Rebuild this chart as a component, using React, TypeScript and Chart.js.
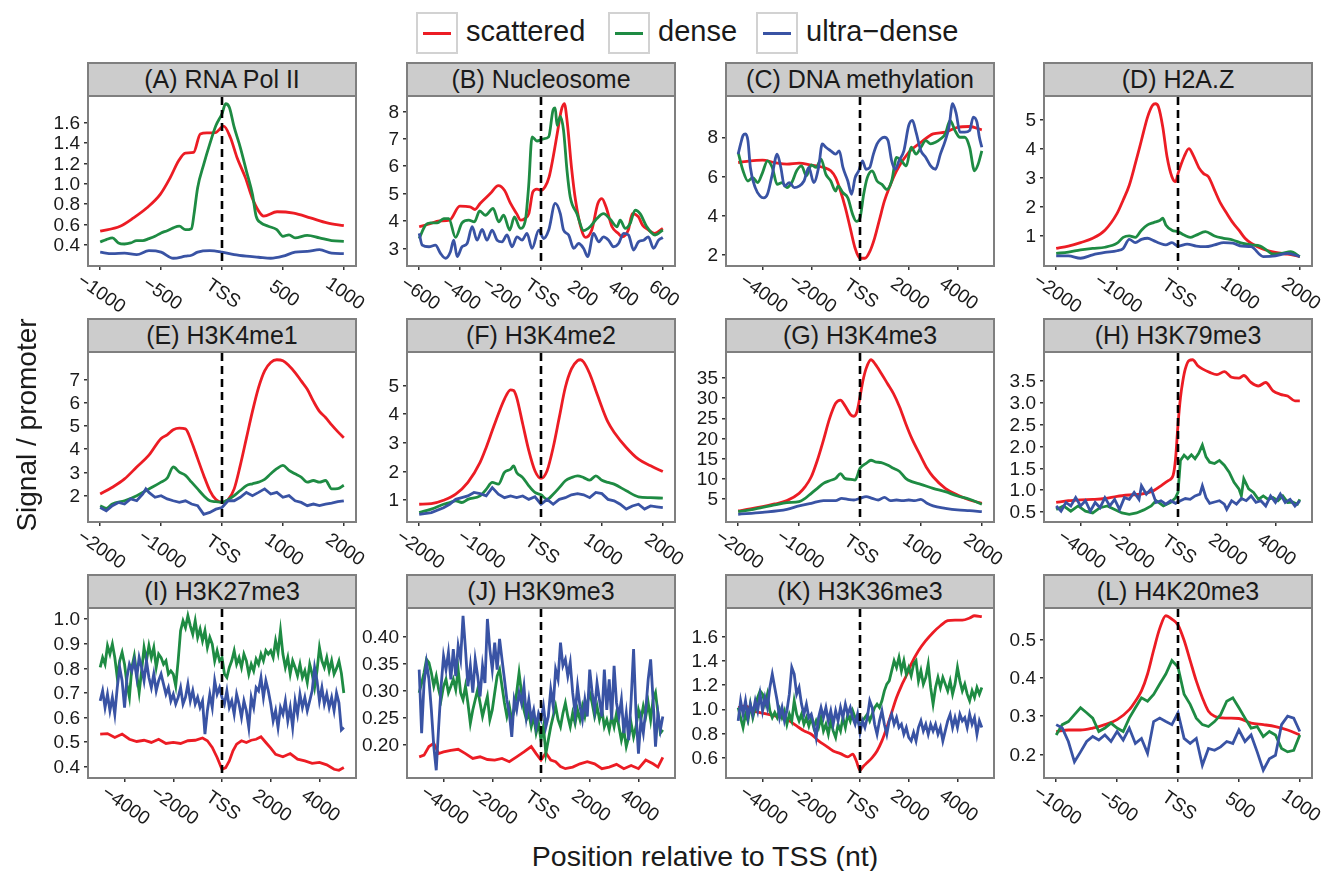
import React, { useEffect, useRef } from "react";
import { Chart, registerables } from "chart.js";
Chart.register(...registerables);

const SERIES = ["scattered", "dense", "ultra\u2212dense"];
const COLORS = ["#ec1c24", "#1e8b43", "#3953a4"];
const FONT = '"Liberation Sans", Arial, Helvetica, sans-serif';

// ---------- shared x grids ----------
const X_GRID_100 = [-5000,-4900,-4800,-4700,-4600,-4500,-4400,-4300,-4200,-4100,-4000,-3900,-3800,-3700,-3600,-3500,-3400,-3300,-3200,-3100,-3000,-2900,-2800,-2700,-2600,-2500,-2400,-2300,-2200,-2100,-2000,-1900,-1800,-1700,-1600,-1500,-1400,-1300,-1200,-1100,-1000,-900,-800,-700,-600,-500,-400,-300,-200,-100,0,100,200,300,400,500,600,700,800,900,1000,1100,1200,1300,1400,1500,1600,1700,1800,1900,2000,2100,2200,2300,2400,2500,2600,2700,2800,2900,3000,3100,3200,3300,3400,3500,3600,3700,3800,3900,4000,4100,4200,4300,4400,4500,4600,4700,4800,4900,5000];
const X_GRID_50 = [-1000,-950,-900,-850,-800,-750,-700,-650,-600,-550,-500,-450,-400,-350,-300,-250,-200,-150,-100,-50,0,50,100,150,200,250,300,350,400,450,500,550,600,650,700,750,800,850,900,950,1000];

// ---------- tick definitions ----------
const XT_1000 = [-1000, -500, 0, 500, 1000];
const XL_1000 = ["\u22121000", "\u2212500", "TSS", "500", "1000"];
const XT_600 = [-600, -400, -200, 0, 200, 400, 600];
const XL_600 = ["\u2212600", "\u2212400", "\u2212200", "TSS", "200", "400", "600"];
const XT_2000 = [-2000, -1000, 0, 1000, 2000];
const XL_2000 = ["\u22122000", "\u22121000", "TSS", "1000", "2000"];
const XT_5000 = [-4000, -2000, 0, 2000, 4000];
const XL_5000 = ["\u22124000", "\u22122000", "TSS", "2000", "4000"];

// ---------- (A) RNA Pol II ----------
const A_RED_X = [-1000,-836,-726,-616,-507,-425,-356,-301,-233,-178,-123,-55,14,68,123,192,247,301,342,452,589,726,863,1000];
const A_RED = [0.535,0.584,0.666,0.765,0.896,1.06,1.225,1.30,1.307,1.488,1.498,1.50,1.564,1.455,1.258,1.06,0.864,0.732,0.683,0.726,0.712,0.666,0.617,0.59];
const A_GREEN_X = [-1000,-950,-900,-850,-800,-750,-700,-650,-600,-550,-500,-450,-400,-350,-300,-250,-230,-200,-150,-100,-50,0,30,60,100,150,200,250,280,320,380,450,500,550,600,700,800,900,1000];
const A_GREEN = [0.43,0.453,0.47,0.42,0.41,0.42,0.443,0.443,0.462,0.485,0.518,0.54,0.568,0.584,0.55,0.56,0.70,0.962,1.19,1.39,1.57,1.686,1.784,1.75,1.554,1.357,1.127,0.896,0.683,0.617,0.584,0.55,0.485,0.50,0.47,0.495,0.47,0.443,0.436];
const A_BLUE_X = [-1000,-900,-800,-700,-600,-500,-400,-300,-250,-200,-100,0,100,200,300,400,500,600,700,800,900,1000];
const A_BLUE = [0.33,0.315,0.32,0.305,0.344,0.33,0.27,0.29,0.30,0.33,0.344,0.33,0.305,0.29,0.28,0.27,0.29,0.33,0.337,0.354,0.32,0.315];
const A_YT = [0.4, 0.6, 0.8, 1.0, 1.2, 1.4, 1.6];
const A_YL = ["0.4", "0.6", "0.8", "1.0", "1.2", "1.4", "1.6"];

// ---------- (B) Nucleosome ----------
const B_RED_X = [-600,-550,-500,-450,-400,-350,-325,-300,-250,-210,-180,-150,-120,-100,-80,-60,-40,-20,0,20,40,60,80,100,115,130,150,170,200,220,250,280,300,320,350,380,400,430,450,480,500,530,560,600];
const B_RED = [3.79,3.89,4.0,4.03,4.54,4.52,4.42,4.64,5.0,5.29,5.12,4.64,4.27,4.03,4.09,4.27,5.06,5.16,5.12,5.25,5.61,6.34,7.19,8.04,8.28,7.55,5.97,4.76,3.67,3.4,3.67,4.64,4.82,4.52,3.79,3.55,3.42,3.67,4.27,4.15,3.85,3.67,3.55,3.73];
const B_GREEN_X = [-600,-569,-544,-511,-479,-454,-421,-389,-356,-328,-302,-274,-236,-208,-184,-154,-131,-102,-77,-61,-44,-20,13,38,59,70,79,95,111,128,144,177,210,243,275,308,341,374,390,415,439,464,488,521,562,600];
const B_GREEN = [3.36,3.85,3.93,3.93,4.09,4.09,3.40,3.93,4.03,3.97,4.37,4.21,4.46,3.97,4.21,3.67,4.15,3.73,4.03,5.25,7.07,6.92,7.0,7.07,8.04,8.13,7.49,7.82,7.31,5.85,4.88,4.27,3.65,3.8,4.09,4.27,4.06,3.79,4.03,3.73,3.91,4.40,4.27,3.79,3.49,3.67];
const B_BLUE_X = [-600,-585,-552,-520,-495,-470,-446,-430,-413,-389,-364,-339,-315,-290,-266,-241,-216,-192,-167,-143,-118,-93,-69,-44,-11,13,38,70,95,111,136,161,185,210,230,259,284,308,333,357,382,407,431,456,480,505,529,554,579,600];
const B_BLUE = [3.55,3.12,3.06,3.12,2.82,2.64,2.88,3.30,2.70,3.06,3.18,3.79,3.30,3.69,3.30,3.67,3.30,3.24,3.49,3.06,3.42,3.30,3.55,3.0,3.67,3.36,3.67,4.64,4.27,3.67,3.49,3.0,3.18,3.0,2.70,3.55,3.24,3.42,3.30,3.06,3.18,3.55,3.49,2.94,3.24,3.30,3.42,3.0,3.30,3.40];
const B_YT = [3, 4, 5, 6, 7, 8];
const B_YL = ["3", "4", "5", "6", "7", "8"];

// ---------- (C) DNA methylation ----------
const C_RED_X = [-5000,-4500,-4000,-3500,-3000,-2500,-2000,-1500,-1200,-1000,-800,-600,-400,-200,0,200,400,600,800,1000,1200,1500,2000,2500,3000,3500,4000,4500,5000];
const C_RED = [6.71,6.8,6.83,6.71,6.63,6.68,6.58,6.46,6.29,5.94,5.26,4.40,3.37,2.34,1.83,1.83,2.17,2.86,3.80,4.74,5.43,6.29,7.23,7.74,8.17,8.26,8.51,8.55,8.38];
const C_GREEN_X = [-5000,-4800,-4600,-4400,-4200,-4000,-3800,-3600,-3400,-3200,-3000,-2800,-2600,-2400,-2200,-2000,-1800,-1600,-1400,-1200,-1000,-900,-700,-500,-300,-150,0,150,300,500,700,900,1100,1300,1500,1700,1900,2100,2300,2500,2700,2900,3100,3300,3500,3700,3900,4100,4300,4500,4700,4850,5000];
const C_GREEN = [7.23,6.29,5.77,5.94,5.69,6.20,6.8,6.46,5.6,5.69,5.43,5.69,6.29,6.54,6.03,6.59,6.46,6.89,6.11,5.77,5.26,5.51,5.17,4.91,4.06,3.71,3.89,5.09,5.94,6.29,5.77,5.6,5.34,5.77,6.97,6.8,6.54,7.49,7.14,7.49,7.83,7.66,7.74,7.91,8.17,8.86,8.34,8.0,8.0,7.49,6.29,6.63,7.31];
const C_BLUE_X = [-5000,-4900,-4800,-4700,-4600,-4500,-4300,-4100,-3950,-3800,-3600,-3400,-3250,-3100,-2900,-2700,-2500,-2300,-2100,-1900,-1700,-1550,-1400,-1200,-1000,-850,-700,-500,-350,-200,-50,100,250,400,550,700,850,1000,1150,1300,1450,1600,1800,2000,2150,2300,2500,2700,2900,3100,3300,3500,3650,3800,3950,4100,4300,4500,4650,4800,4900,5000];
const C_BLUE = [7.14,7.66,8.09,8.17,7.83,6.46,5.43,5.0,4.91,5.09,6.11,7.14,6.46,5.51,5.69,5.43,5.51,5.77,6.46,5.69,6.46,7.66,7.49,7.31,7.14,7.31,6.46,5.77,5.09,5.94,6.29,6.80,6.37,6.46,7.14,7.66,7.91,8.0,7.83,6.8,6.37,6.8,7.31,8.6,8.86,8.26,7.31,6.97,6.54,6.37,7.14,7.83,8.51,9.71,9.2,8.26,8.26,8.34,9.03,8.77,8.0,7.49];
const C_YT = [2, 4, 6, 8];
const C_YL = ["2", "4", "6", "8"];

// ---------- (D) H2A.Z ----------
const D_RED_X = [-2000,-1800,-1600,-1400,-1200,-1000,-900,-800,-700,-600,-500,-420,-370,-320,-250,-180,-100,-40,0,100,180,250,350,420,500,600,700,800,900,1000,1100,1200,1400,1600,1800,2000];
const D_RED = [0.56,0.64,0.76,0.91,1.19,1.77,2.23,2.74,3.49,4.29,5.09,5.49,5.55,5.44,4.75,3.72,3.03,2.86,3.14,3.72,4.0,3.77,3.32,3.14,3.03,2.57,2.11,1.77,1.45,1.19,0.91,0.74,0.53,0.42,0.36,0.28];
const D_GREEN_X = [-2000,-1800,-1600,-1400,-1200,-1000,-900,-800,-700,-600,-500,-400,-300,-250,-200,-100,0,100,200,300,450,600,750,900,1050,1200,1350,1450,1550,1700,1850,2000];
const D_GREEN = [0.39,0.43,0.51,0.56,0.60,0.74,0.94,0.99,0.94,1.19,1.37,1.45,1.52,1.60,1.37,1.19,1.14,1.02,0.94,1.02,1.14,0.99,0.91,0.85,0.74,0.68,0.64,0.51,0.37,0.39,0.45,0.28];
const D_BLUE_X = [-2000,-1800,-1600,-1400,-1200,-1000,-900,-800,-700,-600,-500,-400,-300,-200,-100,0,150,300,450,600,750,900,1050,1200,1400,1600,1800,2000];
const D_BLUE = [0.30,0.30,0.22,0.34,0.42,0.48,0.56,0.87,0.76,0.87,0.91,0.83,0.74,0.68,0.76,0.64,0.71,0.64,0.62,0.68,0.76,0.74,0.64,0.62,0.28,0.30,0.39,0.28];
const D_YT = [1, 2, 3, 4, 5];
const D_YL = ["1", "2", "3", "4", "5"];

// ---------- (E) H3K4me1 ----------
const E_RED_X = [-2000,-1800,-1600,-1400,-1200,-1000,-900,-800,-700,-600,-500,-400,-300,-200,-100,0,100,200,300,400,500,600,700,800,900,1000,1100,1200,1300,1400,1500,1600,1700,1800,1900,2000];
const E_RED = [2.07,2.36,2.72,3.23,3.74,4.46,4.61,4.83,4.90,4.87,4.32,3.59,2.87,2.22,1.83,1.71,1.83,2.29,3.30,4.46,5.62,6.64,7.36,7.72,7.84,7.80,7.58,7.29,6.93,6.57,6.06,5.62,5.36,5.04,4.75,4.49];
const E_GREEN_X = [-2000,-1900,-1800,-1600,-1400,-1200,-1000,-900,-800,-700,-600,-500,-400,-300,-200,-100,0,100,200,300,400,500,600,700,800,900,1000,1100,1200,1300,1400,1500,1600,1700,1800,1900,2000];
const E_GREEN = [1.57,1.45,1.64,1.78,2.0,2.29,2.58,2.75,3.23,3.01,2.87,2.58,2.29,2.0,1.78,1.74,1.71,1.83,2.0,2.22,2.43,2.51,2.58,2.70,2.94,3.16,3.30,3.09,2.94,2.80,2.58,2.65,2.58,2.65,2.29,2.30,2.45];
const E_BLUE_X = [-2000,-1900,-1800,-1700,-1600,-1500,-1400,-1300,-1250,-1200,-1100,-1000,-900,-800,-700,-600,-500,-400,-300,-200,-100,0,100,200,300,400,500,600,700,800,900,1000,1100,1200,1300,1400,1500,1600,1700,1800,1900,2000];
const E_BLUE = [1.49,1.35,1.57,1.71,1.64,1.86,1.78,2.07,2.29,2.14,1.93,2.0,1.86,1.78,1.71,1.78,1.64,1.57,1.20,1.28,1.42,1.49,1.78,1.78,1.93,2.14,2.0,2.14,2.29,2.07,2.14,1.93,2.0,1.78,1.71,1.57,1.64,1.57,1.64,1.68,1.74,1.78];
const E_YT = [2, 3, 4, 5, 6, 7];
const E_YL = ["2", "3", "4", "5", "6", "7"];

// ---------- (F) H3K4me2 ----------
const F_RED_X = [-2000,-1800,-1600,-1400,-1200,-1000,-900,-800,-700,-600,-500,-450,-400,-300,-200,-100,0,100,200,300,400,500,600,650,700,800,900,1000,1100,1200,1400,1600,1800,2000];
const F_RED = [0.86,0.88,1.0,1.21,1.62,2.32,2.84,3.43,4.01,4.53,4.85,4.83,4.59,3.66,2.73,2.03,1.76,2.03,2.84,3.89,4.94,5.58,5.87,5.90,5.82,5.41,4.83,4.24,3.72,3.37,2.84,2.43,2.20,2.0];
const F_GREEN_X = [-2000,-1800,-1600,-1500,-1400,-1300,-1200,-1000,-900,-800,-700,-600,-500,-450,-400,-300,-200,-100,0,100,200,300,400,500,600,700,800,900,1000,1100,1200,1400,1600,1800,2000];
const F_GREEN = [0.57,0.69,0.86,0.92,0.98,0.92,1.03,1.15,1.38,1.62,1.56,1.97,2.08,2.20,1.97,1.79,1.50,1.27,1.19,1.03,1.21,1.44,1.68,1.79,1.85,1.79,1.70,1.85,1.70,1.62,1.56,1.33,1.12,1.09,1.07];
const F_BLUE_X = [-2000,-1800,-1600,-1500,-1400,-1300,-1200,-1100,-1000,-900,-800,-700,-600,-500,-400,-300,-200,-100,0,100,200,300,400,500,600,700,800,900,1000,1100,1200,1300,1400,1500,1600,1700,1800,1900,2000];
const F_BLUE = [0.51,0.57,0.74,0.86,1.03,1.09,1.15,1.27,1.23,1.15,1.44,1.21,1.09,1.15,1.09,1.15,1.03,1.12,0.86,1.03,0.86,1.03,1.09,1.19,1.23,1.19,1.09,1.27,1.23,1.03,0.98,0.86,0.69,0.80,0.86,0.69,0.80,0.77,0.74];
const F_YT = [1, 2, 3, 4, 5];
const F_YL = ["1", "2", "3", "4", "5"];

// ---------- (G) H3K4me3 ----------
const G_RED_X = [-2000,-1800,-1600,-1400,-1200,-1000,-900,-800,-700,-600,-500,-400,-320,-250,-150,-100,-50,0,50,100,180,250,350,450,550,650,750,850,1000,1100,1200,1400,1600,1800,2000];
const G_RED = [2.03,2.53,3.10,3.76,4.59,6.40,8.05,10.5,14.6,19.6,24.9,28.7,29.5,28.2,25.8,25.5,26.6,30.3,34.4,37.3,39.5,38.4,36.1,33.6,31.1,27.8,23.7,20.0,15.5,12.6,10.5,7.64,5.99,4.75,3.93];
const G_GREEN_X = [-2000,-1800,-1600,-1400,-1200,-1000,-900,-800,-700,-600,-500,-400,-320,-250,-150,-80,0,100,180,250,350,450,550,650,750,850,1000,1200,1400,1600,1800,2000];
const G_GREEN = [1.87,2.28,2.94,3.52,4.09,4.34,5.16,6.40,7.64,8.87,9.53,10.1,11.3,10.1,9.86,9.70,12.6,13.8,14.6,14.2,14.0,13.4,12.6,11.8,10.1,9.29,8.63,7.64,6.81,5.74,4.92,3.68];
const G_BLUE_X = [-2000,-1600,-1200,-1000,-800,-600,-400,-300,-200,-100,0,100,200,300,400,500,600,700,800,900,1000,1100,1200,1400,1600,1800,2000];
const G_BLUE = [1.21,1.70,2.44,3.27,3.93,4.59,4.59,5.16,4.92,4.75,5.16,5.58,5.16,4.75,5.41,4.59,4.75,4.59,4.75,4.59,4.92,3.93,3.27,2.69,2.28,2.11,1.87];
const G_YT = [5, 10, 15, 20, 25, 30, 35];
const G_YL = ["5", "10", "15", "20", "25", "30", "35"];

// ---------- (H) H3K79me3 ----------
const H_RED_X = [-5000,-4500,-4000,-3500,-3000,-2500,-2000,-1500,-1000,-700,-400,-200,-100,0,100,200,300,450,600,800,1000,1300,1600,1900,2200,2500,2700,3000,3300,3600,3900,4200,4500,4800,5000];
const H_RED = [0.72,0.76,0.78,0.79,0.81,0.86,0.89,0.91,0.99,1.10,1.22,1.34,1.72,2.50,3.11,3.5,3.77,3.96,3.98,3.85,3.77,3.69,3.64,3.71,3.58,3.56,3.62,3.46,3.38,3.46,3.27,3.19,3.15,3.04,3.04];
const H_GREEN_X = [-5000,-4700,-4400,-4100,-3800,-3500,-3200,-2900,-2600,-2300,-2000,-1700,-1400,-1100,-900,-600,-300,-100,0,100,250,400,550,700,850,1000,1150,1300,1500,1700,1900,2100,2300,2500,2600,2700,2900,3100,3300,3500,3700,3900,4100,4300,4500,4700,4900,5000];
const H_GREEN = [0.56,0.64,0.52,0.64,0.52,0.48,0.60,0.64,0.56,0.48,0.45,0.48,0.55,0.64,0.76,0.64,0.72,0.83,0.95,1.68,1.80,1.72,1.81,1.72,1.84,2.03,1.76,1.64,1.61,1.68,1.57,1.41,1.18,1.03,0.87,1.26,1.03,0.95,0.79,0.87,0.79,0.83,0.76,0.87,0.72,0.73,0.68,0.79];
const H_BLUE_X = [-5000,-4800,-4600,-4400,-4200,-4000,-3800,-3600,-3400,-3200,-3000,-2800,-2600,-2400,-2200,-2000,-1800,-1600,-1500,-1300,-1100,-900,-700,-500,-300,-100,100,300,500,700,900,1000,1150,1300,1500,1700,1900,2000,2200,2400,2600,2800,3000,3200,3400,3600,3800,4000,4200,4400,4600,4800,5000];
const H_BLUE = [0.64,0.52,0.72,0.64,0.83,0.64,0.76,0.52,0.72,0.60,0.83,0.64,0.79,0.56,0.83,0.79,0.95,0.79,1.10,0.91,1.03,0.72,0.76,0.68,0.76,0.70,0.76,0.81,0.79,0.87,0.91,1.10,0.83,0.70,0.73,0.76,0.68,0.56,0.76,0.68,0.81,0.76,0.87,0.72,0.76,0.64,0.87,0.72,0.91,0.72,0.79,0.64,0.76];
const H_YT = [0.5, 1.0, 1.5, 2.0, 2.5, 3.0, 3.5];
const H_YL = ["0.5", "1.0", "1.5", "2.0", "2.5", "3.0", "3.5"];

// ---------- (I) H3K27me3 ----------
const I_RED_X = [-5000,-4700,-4400,-4100,-3800,-3500,-3200,-2900,-2600,-2300,-2000,-1700,-1400,-1100,-800,-600,-400,-200,0,150,300,450,600,800,1000,1200,1400,1600,1800,2000,2200,2500,2800,3100,3400,3700,4000,4300,4600,4800,5000];
const I_RED = [0.533,0.535,0.519,0.533,0.512,0.503,0.508,0.499,0.512,0.495,0.499,0.495,0.506,0.508,0.517,0.506,0.479,0.438,0.39,0.397,0.424,0.465,0.492,0.506,0.499,0.508,0.512,0.522,0.499,0.476,0.451,0.441,0.454,0.431,0.424,0.414,0.418,0.408,0.39,0.386,0.397];
const I_GREEN = [0.804,0.844,0.817,0.892,0.858,0.899,0.844,0.763,0.831,0.865,0.817,0.736,0.682,0.804,0.851,0.777,0.702,0.790,0.885,0.831,0.892,0.844,0.885,0.804,0.858,0.844,0.817,0.831,0.777,0.790,0.777,0.729,0.831,0.953,0.993,0.966,1.014,0.973,0.939,0.993,0.926,0.960,0.912,0.953,0.885,0.926,0.899,0.831,0.872,0.831,0.844,0.777,0.763,0.804,0.831,0.872,0.817,0.844,0.804,0.858,0.831,0.777,0.817,0.790,0.838,0.817,0.858,0.831,0.872,0.858,0.872,0.844,0.912,0.865,0.953,0.858,0.804,0.844,0.777,0.831,0.804,0.770,0.817,0.763,0.790,0.743,0.817,0.777,0.722,0.790,0.885,0.831,0.804,0.844,0.790,0.831,0.777,0.80,0.83,0.78,0.70];
const I_BLUE = [0.668,0.709,0.641,0.695,0.628,0.682,0.614,0.722,0.804,0.750,0.641,0.763,0.817,0.790,0.831,0.763,0.844,0.804,0.750,0.831,0.763,0.722,0.777,0.709,0.750,0.777,0.736,0.695,0.722,0.668,0.695,0.655,0.682,0.722,0.655,0.682,0.736,0.668,0.709,0.655,0.682,0.641,0.668,0.533,0.628,0.695,0.641,0.750,0.695,0.722,0.682,0.655,0.709,0.641,0.668,0.614,0.695,0.655,0.601,0.668,0.628,0.560,0.682,0.641,0.722,0.709,0.763,0.682,0.750,0.709,0.655,0.587,0.628,0.560,0.641,0.614,0.668,0.587,0.641,0.560,0.668,0.614,0.695,0.641,0.682,0.628,0.668,0.709,0.804,0.750,0.668,0.722,0.655,0.695,0.641,0.682,0.628,0.70,0.66,0.55,0.56];
const I_YT = [0.4, 0.5, 0.6, 0.7, 0.8, 0.9, 1.0];
const I_YL = ["0.4", "0.5", "0.6", "0.7", "0.8", "0.9", "1.0"];

// ---------- (J) H3K9me3 ----------
const J_RED_X = [-5000,-4800,-4600,-4400,-4200,-4000,-3700,-3400,-3100,-2800,-2500,-2200,-1900,-1600,-1300,-1000,-700,-400,-200,0,200,400,600,800,1000,1300,1600,1900,2200,2500,2800,3100,3400,3700,4000,4300,4600,4800,5000];
const J_RED = [0.177,0.180,0.196,0.202,0.183,0.186,0.189,0.191,0.183,0.174,0.177,0.172,0.171,0.174,0.168,0.177,0.186,0.196,0.183,0.171,0.184,0.171,0.168,0.159,0.155,0.158,0.164,0.168,0.164,0.155,0.158,0.163,0.155,0.161,0.155,0.171,0.164,0.158,0.176];
const J_GREEN = [0.296,0.314,0.333,0.358,0.352,0.333,0.308,0.327,0.302,0.283,0.308,0.321,0.296,0.308,0.321,0.302,0.339,0.296,0.283,0.308,0.277,0.239,0.264,0.283,0.302,0.277,0.252,0.271,0.289,0.246,0.264,0.296,0.327,0.339,0.308,0.277,0.252,0.271,0.246,0.264,0.296,0.333,0.296,0.264,0.246,0.258,0.233,0.252,0.221,0.239,0.208,0.233,0.183,0.208,0.233,0.252,0.271,0.246,0.233,0.258,0.277,0.252,0.233,0.258,0.239,0.264,0.246,0.271,0.252,0.277,0.296,0.277,0.252,0.271,0.246,0.264,0.233,0.246,0.227,0.252,0.233,0.258,0.233,0.208,0.227,0.196,0.214,0.239,0.214,0.233,0.264,0.246,0.271,0.252,0.277,0.246,0.283,0.296,0.258,0.221,0.227];
const J_BLUE = [0.339,0.221,0.314,0.352,0.321,0.264,0.196,0.152,0.233,0.308,0.364,0.339,0.371,0.321,0.377,0.327,0.383,0.358,0.439,0.377,0.308,0.346,0.296,0.358,0.327,0.289,0.346,0.314,0.433,0.377,0.339,0.389,0.339,0.396,0.358,0.321,0.283,0.258,0.214,0.283,0.264,0.296,0.277,0.308,0.252,0.283,0.246,0.264,0.233,0.258,0.246,0.271,0.233,0.252,0.302,0.271,0.339,0.321,0.389,0.346,0.358,0.327,0.352,0.296,0.258,0.308,0.271,0.246,0.283,0.252,0.339,0.296,0.264,0.314,0.283,0.252,0.339,0.264,0.321,0.246,0.346,0.277,0.252,0.283,0.221,0.258,0.208,0.283,0.377,0.258,0.183,0.246,0.221,0.264,0.321,0.358,0.283,0.196,0.258,0.227,0.252];
const J_YT = [0.2, 0.25, 0.3, 0.35, 0.4];
const J_YL = ["0.20", "0.25", "0.30", "0.35", "0.40"];

// ---------- (K) H3K36me3 ----------
const K_RED_X = [-5000,-4700,-4400,-4100,-3800,-3500,-3200,-2900,-2600,-2300,-2000,-1700,-1400,-1100,-800,-500,-300,-150,0,150,300,500,700,900,1100,1300,1500,1700,1900,2100,2400,2700,3000,3300,3600,3900,4200,4500,4700,5000];
const K_RED = [1.014,1.028,0.987,0.973,0.959,0.945,0.931,0.904,0.862,0.821,0.793,0.738,0.697,0.655,0.633,0.606,0.628,0.572,0.495,0.531,0.559,0.60,0.655,0.738,0.849,0.973,1.097,1.194,1.277,1.373,1.484,1.567,1.636,1.691,1.733,1.738,1.738,1.755,1.774,1.766];
const K_GREEN = [1.014,0.931,0.849,0.959,0.904,1.042,0.931,1.014,1.097,1.152,1.125,1.042,1.125,0.987,0.931,0.973,0.931,1.0,0.931,0.987,0.876,0.959,0.904,1.070,0.959,0.904,0.959,0.876,0.931,0.862,0.931,0.849,0.904,0.849,0.931,0.821,0.876,0.793,0.904,0.821,0.766,0.876,0.821,0.931,0.849,0.959,0.904,0.987,0.931,0.904,0.862,0.904,0.931,0.959,0.904,0.959,1.014,1.042,1.014,1.070,1.152,1.208,1.235,1.318,1.401,1.346,1.429,1.318,1.401,1.291,1.346,1.277,1.373,1.401,1.235,1.318,1.208,1.263,1.373,1.180,1.042,1.180,1.263,1.180,1.263,1.208,1.152,1.235,1.125,1.208,1.346,1.235,1.152,1.208,1.125,1.070,1.152,1.097,1.180,1.125,1.180];
const K_BLUE = [0.904,1.070,0.959,1.070,0.931,1.042,0.959,1.070,0.987,1.125,0.987,1.097,1.014,1.180,1.291,1.180,1.070,0.931,1.014,0.904,0.987,1.125,1.346,1.291,1.125,1.180,1.042,0.959,1.042,0.931,0.959,0.876,0.766,0.931,1.014,0.931,1.014,0.904,0.987,0.876,0.987,0.904,1.014,0.931,1.042,0.959,1.014,0.931,0.876,0.959,0.807,0.904,0.849,0.931,1.070,1.014,0.876,0.793,0.904,0.987,0.876,0.793,0.904,0.959,0.876,0.931,0.849,0.876,0.793,0.849,0.766,0.738,0.807,0.738,0.849,0.904,0.821,0.876,0.793,0.876,0.821,0.876,0.793,0.849,0.738,0.821,0.904,0.959,0.849,0.931,0.849,0.959,0.904,0.931,0.849,0.959,0.876,0.931,0.793,0.904,0.849];
const K_YT = [0.6, 0.8, 1.0, 1.2, 1.4, 1.6];
const K_YL = ["0.6", "0.8", "1.0", "1.2", "1.4", "1.6"];

// ---------- (L) H4K20me3 ----------
const L_RED_X = [-1000,-900,-800,-700,-600,-500,-400,-350,-300,-250,-200,-150,-100,-50,0,50,100,150,200,250,300,400,500,600,700,800,900,1000];
const L_RED = [0.260,0.264,0.264,0.269,0.278,0.291,0.317,0.339,0.366,0.410,0.472,0.529,0.562,0.553,0.538,0.498,0.445,0.392,0.348,0.313,0.300,0.295,0.294,0.282,0.278,0.273,0.264,0.251];
const L_GREEN = [0.251,0.278,0.286,0.304,0.322,0.309,0.295,0.260,0.269,0.282,0.269,0.260,0.295,0.322,0.348,0.339,0.357,0.384,0.410,0.445,0.428,0.357,0.331,0.295,0.278,0.273,0.286,0.304,0.339,0.348,0.322,0.295,0.269,0.273,0.247,0.260,0.251,0.216,0.207,0.211,0.251];
const L_BLUE = [0.278,0.269,0.234,0.181,0.207,0.234,0.247,0.238,0.251,0.234,0.260,0.238,0.269,0.229,0.242,0.203,0.286,0.295,0.286,0.278,0.309,0.242,0.229,0.242,0.172,0.216,0.211,0.220,0.234,0.229,0.264,0.234,0.251,0.207,0.159,0.189,0.198,0.278,0.300,0.295,0.260];
const L_YT = [0.2, 0.3, 0.4, 0.5];
const L_YL = ["0.2", "0.3", "0.4", "0.5"];

type PanelDef = {
  title: string;
  xs: number[][];
  ys: number[][];
  xTicks: number[];
  xLabels: string[];
  yTicks: number[];
  yLabels: string[];
  smooth: boolean[];
};

const PANELS: PanelDef[] = [
  { title: "(A) RNA Pol II", xs: [A_RED_X, A_GREEN_X, A_BLUE_X], ys: [A_RED, A_GREEN, A_BLUE], xTicks: XT_1000, xLabels: XL_1000, yTicks: A_YT, yLabels: A_YL, smooth: [true, true, true] },
  { title: "(B) Nucleosome", xs: [B_RED_X, B_GREEN_X, B_BLUE_X], ys: [B_RED, B_GREEN, B_BLUE], xTicks: XT_600, xLabels: XL_600, yTicks: B_YT, yLabels: B_YL, smooth: [true, true, true] },
  { title: "(C) DNA methylation", xs: [C_RED_X, C_GREEN_X, C_BLUE_X], ys: [C_RED, C_GREEN, C_BLUE], xTicks: XT_5000, xLabels: XL_5000, yTicks: C_YT, yLabels: C_YL, smooth: [true, true, true] },
  { title: "(D) H2A.Z", xs: [D_RED_X, D_GREEN_X, D_BLUE_X], ys: [D_RED, D_GREEN, D_BLUE], xTicks: XT_2000, xLabels: XL_2000, yTicks: D_YT, yLabels: D_YL, smooth: [true, true, true] },
  { title: "(E) H3K4me1", xs: [E_RED_X, E_GREEN_X, E_BLUE_X], ys: [E_RED, E_GREEN, E_BLUE], xTicks: XT_2000, xLabels: XL_2000, yTicks: E_YT, yLabels: E_YL, smooth: [true, true, false] },
  { title: "(F) H3K4me2", xs: [F_RED_X, F_GREEN_X, F_BLUE_X], ys: [F_RED, F_GREEN, F_BLUE], xTicks: XT_2000, xLabels: XL_2000, yTicks: F_YT, yLabels: F_YL, smooth: [true, true, false] },
  { title: "(G) H3K4me3", xs: [G_RED_X, G_GREEN_X, G_BLUE_X], ys: [G_RED, G_GREEN, G_BLUE], xTicks: XT_2000, xLabels: XL_2000, yTicks: G_YT, yLabels: G_YL, smooth: [true, true, true] },
  { title: "(H) H3K79me3", xs: [H_RED_X, H_GREEN_X, H_BLUE_X], ys: [H_RED, H_GREEN, H_BLUE], xTicks: XT_5000, xLabels: XL_5000, yTicks: H_YT, yLabels: H_YL, smooth: [true, false, false] },
  { title: "(I) H3K27me3", xs: [I_RED_X, X_GRID_100, X_GRID_100], ys: [I_RED, I_GREEN, I_BLUE], xTicks: XT_5000, xLabels: XL_5000, yTicks: I_YT, yLabels: I_YL, smooth: [false, false, false] },
  { title: "(J) H3K9me3", xs: [J_RED_X, X_GRID_100, X_GRID_100], ys: [J_RED, J_GREEN, J_BLUE], xTicks: XT_5000, xLabels: XL_5000, yTicks: J_YT, yLabels: J_YL, smooth: [false, false, false] },
  { title: "(K) H3K36me3", xs: [K_RED_X, X_GRID_100, X_GRID_100], ys: [K_RED, K_GREEN, K_BLUE], xTicks: XT_5000, xLabels: XL_5000, yTicks: K_YT, yLabels: K_YL, smooth: [true, false, false] },
  { title: "(L) H4K20me3", xs: [L_RED_X, X_GRID_50, X_GRID_50], ys: [L_RED, L_GREEN, L_BLUE], xTicks: XT_1000, xLabels: XL_1000, yTicks: L_YT, yLabels: L_YL, smooth: [true, false, false] },
];

// ---------- layout ----------
const COL_LEFT = [88, 407, 726, 1044];
const ROW_PLOT_TOP = [96, 352, 608];
const PLOT_W = 268;
const PLOT_H = 170;
const STRIP_H = 34;
const PAD_L = 60;
const PAD_T = 14;
const PAD_R = 34;
const PAD_B = 52;
const CW = PAD_L + PLOT_W + PAD_R;
const CH = PAD_T + PLOT_H + PAD_B;
const TICK_FONT = 19;
const ROT = (35 * Math.PI) / 180;

function PanelChart({ def, col, row }: { def: PanelDef; col: number; row: number }) {
  const ref = useRef<HTMLCanvasElement>(null);
  const L = COL_LEFT[col];
  const T = ROW_PLOT_TOP[row];

  useEffect(() => {
    const canvas = ref.current;
    if (!canvas) return;
    const allY = def.ys.flat();
    const lo = Math.min(...allY);
    const hi = Math.max(...allY);
    const yPad = (hi - lo) * 0.05;
    const allX = def.xs.flat();
    const xlo = Math.min(...allX);
    const xhi = Math.max(...allX);
    const xPad = (xhi - xlo) * 0.05;

    const deco = {
      id: "panelDeco",
      afterDatasetsDraw(chart: any) {
        const { ctx, chartArea: a } = chart;
        const x0 = chart.scales.x.getPixelForValue(0);
        ctx.save();
        ctx.strokeStyle = "#000000";
        ctx.lineWidth = 2.6;
        ctx.setLineDash([8, 5]);
        ctx.beginPath();
        ctx.moveTo(x0, a.top + 1);
        ctx.lineTo(x0, a.bottom - 1);
        ctx.stroke();
        ctx.restore();
        ctx.save();
        ctx.strokeStyle = "#7f7f7f";
        ctx.lineWidth = 2;
        ctx.strokeRect(a.left, a.top, a.right - a.left, a.bottom - a.top);
        ctx.restore();
      },
      afterDraw(chart: any) {
        const { ctx, chartArea: a } = chart;
        const ys = chart.scales.y;
        const xs = chart.scales.x;
        ctx.save();
        ctx.fillStyle = "#1a1a1a";
        ctx.font = `${TICK_FONT}px ${FONT}`;
        ctx.textAlign = "right";
        ctx.textBaseline = "middle";
        def.yTicks.forEach((v, i) => {
          const y = ys.getPixelForValue(v);
          ctx.fillText(def.yLabels[i], a.left - 8, y + 1);
        });
        ctx.textAlign = "center";
        def.xTicks.forEach((v, i) => {
          const x = xs.getPixelForValue(v);
          ctx.save();
          ctx.translate(x + 1, a.bottom + 28);
          ctx.rotate(ROT);
          ctx.fillText(def.xLabels[i], 0, 0);
          ctx.restore();
        });
        ctx.restore();
      },
    };

    const chart = new Chart(canvas, {
      type: "line",
      data: {
        datasets: [0, 1, 2].map((s) => ({
          label: SERIES[s],
          data: def.xs[s].map((x, j) => ({ x, y: def.ys[s][j] })),
          borderColor: COLORS[s],
          backgroundColor: COLORS[s],
          borderWidth: 2.8,
          pointRadius: 0,
          fill: false,
          tension: 0,
          cubicInterpolationMode: def.smooth[s] ? "monotone" : "default",
          order: 3 - s,
        })),
      },
      options: {
        animation: false,
        responsive: false,
        maintainAspectRatio: false,
        devicePixelRatio: 1,
        events: [],
        layout: { padding: { left: 0, right: PAD_R, top: PAD_T, bottom: 0 } },
        plugins: { legend: { display: false }, tooltip: { enabled: false }, title: { display: false } },
        scales: {
          x: {
            type: "linear",
            position: "bottom",
            min: xlo - xPad,
            max: xhi + xPad,
            afterFit: (s: any) => { s.height = PAD_B; },
            afterBuildTicks: (s: any) => { s.ticks = def.xTicks.map((v) => ({ value: v })); },
            ticks: { display: false, autoSkip: false },
            grid: { display: true, drawOnChartArea: false, drawTicks: true, tickLength: 4, color: "#333333", lineWidth: 1.5 },
            border: { display: false },
          },
          y: {
            type: "linear",
            position: "left",
            min: lo - yPad,
            max: hi + yPad,
            afterFit: (s: any) => { s.width = PAD_L; },
            afterBuildTicks: (s: any) => { s.ticks = def.yTicks.map((v) => ({ value: v })); },
            ticks: { display: false, autoSkip: false },
            grid: { display: true, drawOnChartArea: false, drawTicks: true, tickLength: 4, color: "#333333", lineWidth: 1.5 },
            border: { display: false },
          },
        },
      } as any,
      plugins: [deco],
    });
    return () => chart.destroy();
  }, [def]);

  return (
    <>
      <canvas
        ref={ref}
        width={CW}
        height={CH}
        style={{ position: "absolute", left: L - PAD_L, top: T - PAD_T, width: CW, height: CH }}
      />
      <div
        style={{
          position: "absolute",
          left: L - 1,
          top: T - STRIP_H,
          width: PLOT_W + 2,
          height: STRIP_H + 1,
          boxSizing: "border-box",
          background: "#cccccc",
          border: "2px solid #7f7f7f",
          display: "flex",
          alignItems: "center",
          justifyContent: "center",
          fontSize: 25,
          lineHeight: "25px",
          color: "#1a1a1a",
          whiteSpace: "nowrap",
        }}
      >
        {def.title}
      </div>
    </>
  );
}

const LEGEND_BOX_X = [416, 608, 756];
const LEGEND_TEXT_X = [466, 658, 806];

export default function App() {
  return (
    <div
      style={{
        position: "absolute",
        left: 0,
        top: 0,
        width: 1329,
        height: 871,
        background: "#ffffff",
        fontFamily: FONT,
        color: "#1a1a1a",
        overflow: "hidden",
      }}
    >
      {SERIES.map((name, i) => (
        <React.Fragment key={name}>
          <div
            style={{
              position: "absolute",
              left: LEGEND_BOX_X[i],
              top: 12,
              width: 42,
              height: 42,
              boxSizing: "border-box",
              border: "2px solid #d2d2d2",
              background: "#ffffff",
            }}
          >
            <div style={{ position: "absolute", left: 5, top: 18, width: 28, height: 3, background: COLORS[i] }} />
          </div>
          <div
            style={{
              position: "absolute",
              left: LEGEND_TEXT_X[i],
              top: 17,
              fontSize: 29,
              lineHeight: "29px",
              whiteSpace: "nowrap",
            }}
          >
            {name}
          </div>
        </React.Fragment>
      ))}

      {PANELS.map((p, i) => (
        <PanelChart key={p.title} def={p} col={i % 4} row={Math.floor(i / 4)} />
      ))}

      <div
        style={{
          position: "absolute",
          left: 27 - 200,
          top: 425 - 14,
          width: 400,
          height: 28,
          fontSize: 28,
          lineHeight: "28px",
          textAlign: "center",
          transform: "rotate(-90deg)",
          transformOrigin: "50% 50%",
          whiteSpace: "nowrap",
        }}
      >
        Signal / promoter
      </div>
      <div
        style={{
          position: "absolute",
          left: 305,
          top: 842,
          width: 800,
          fontSize: 28.5,
          lineHeight: "28px",
          textAlign: "center",
          whiteSpace: "nowrap",
        }}
      >
        Position relative to TSS (nt)
      </div>
    </div>
  );
}
